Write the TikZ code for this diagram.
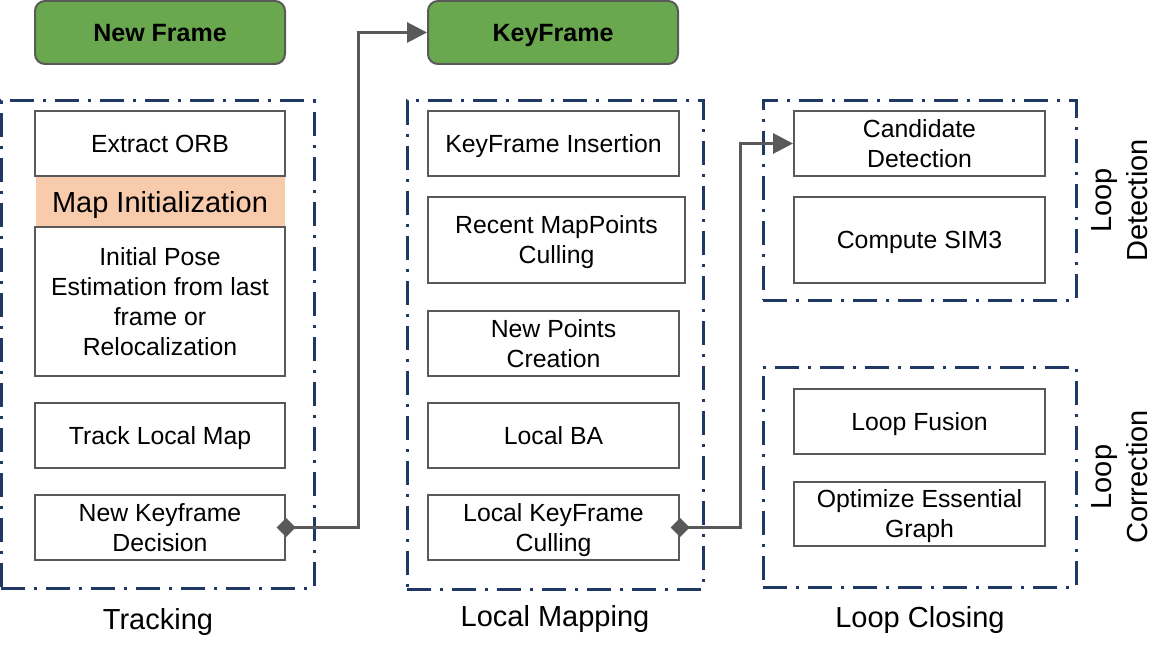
\documentclass[tikz,border=0pt]{standalone}
\usepackage{fontspec}
\setmainfont{Liberation Sans}
\usetikzlibrary{arrows.meta}
\definecolor{boxgray}{HTML}{595959}
\definecolor{grpblue}{HTML}{1F3864}
\definecolor{hdgreen}{HTML}{6AA84F}
\definecolor{initorange}{HTML}{F8CBAD}
\tikzset{
  box/.style={draw=boxgray, line width=2pt, fill=white, align=center, inner sep=0pt,
    text depth=0pt, font=\fontsize{24.8}{30}\selectfont},
  header/.style={draw=boxgray, line width=2pt, fill=hdgreen, rounded corners=10pt,
    inner sep=0pt, minimum width=250pt, minimum height=63pt, text depth=0pt,
    font=\fontsize{25}{30}\selectfont\bfseries},
  grp/.style={draw=grpblue, line width=3pt, inner sep=0pt,
    dash pattern=on 24pt off 9pt on 3pt off 9pt},
  grplabel/.style={font=\fontsize{29}{36}\selectfont, anchor=base},
  sidelabel/.style={font=\fontsize{29}{36}\selectfont, align=center, rotate=90},
  conn/.style={draw=boxgray, line width=3pt,
    {Diamond[length=19pt,width=19pt,fill=boxgray]}-{Triangle[length=20pt,width=20pt,fill=boxgray]},
    shorten <=-9.5pt}
}
\begin{document}
\begin{tikzpicture}[x=1pt,y=-1pt]
\useasboundingbox (0,0) rectangle (1173,655);
% groups
\node[grp, minimum width=313pt, minimum height=487pt] (trk) at (157.5,344.5) {};
\node[grp, minimum width=296pt, minimum height=488pt] (lm) at (555,345) {};
\node[grp, minimum width=313pt, minimum height=199pt] (ld) at (919.5,200.5) {};
\node[grp, minimum width=313pt, minimum height=220pt] (lc) at (919.5,477) {};
% headers
\node[header] (nf) at (160,32.5) {New Frame};
\node[header] (kf) at (553,32.5) {KeyFrame};
% tracking
\node[box, minimum width=250pt, minimum height=65pt] (eo) at (160,143.5) {Extract ORB};
\node[fill=initorange, inner sep=0pt, minimum width=249pt, minimum height=50pt, text depth=0pt,
  font=\fontsize{29}{34}\selectfont] (mi) at (160,202) {Map Initialization};
\node[box, minimum width=250pt, minimum height=149pt] (ip) at (160,301.5)
  {Initial Pose\\Estimation from last\\frame or\\Relocalization};
\node[box, minimum width=250pt, minimum height=65pt] (tlm) at (160,435.5) {Track Local Map};
\node[box, minimum width=250pt, minimum height=65pt] (nkd) at (160,527.5) {New Keyframe\\Decision};
% local mapping
\node[box, minimum width=251pt, minimum height=65pt] (kfi) at (553.5,143.5) {KeyFrame Insertion};
\node[box, minimum width=257pt, minimum height=86pt] (rmc) at (556.5,240) {Recent MapPoints\\Culling};
\node[box, minimum width=251pt, minimum height=65pt] (npc) at (553.5,343.5) {New Points\\Creation};
\node[box, minimum width=251pt, minimum height=65pt] (lba) at (553.5,435.5) {Local BA};
\node[box, minimum width=251pt, minimum height=65pt] (lkc) at (553.5,527.5) {Local KeyFrame\\Culling};
% loop closing
\node[box, minimum width=251pt, minimum height=65pt] (cd) at (919.5,143.5) {Candidate\\Detection};
\node[box, minimum width=251pt, minimum height=86pt] (cs) at (919.5,240) {Compute SIM3};
\node[box, minimum width=251pt, minimum height=65pt] (lf) at (919.5,421.5) {Loop Fusion};
\node[box, minimum width=251pt, minimum height=64pt] (oeg) at (919.5,514) {Optimize Essential\\Graph};
% labels
\node[grplabel] (ltrk) at (158,629) {Tracking};
\node[grplabel] (llm) at (555,626) {Local Mapping};
\node[grplabel] (llc) at (920,627) {Loop Closing};
\node[sidelabel] (lld) at (1120,200.5) {Loop\\Detection};
\node[sidelabel] (llcor) at (1120,477) {Loop\\Correction};
% connectors
\draw[conn] (nkd.east) -- ++(72,0) |- (kf.west);
\draw[conn] (lkc.east) -- ++(60,0) |- (cd.west);
\end{tikzpicture}
\end{document}
